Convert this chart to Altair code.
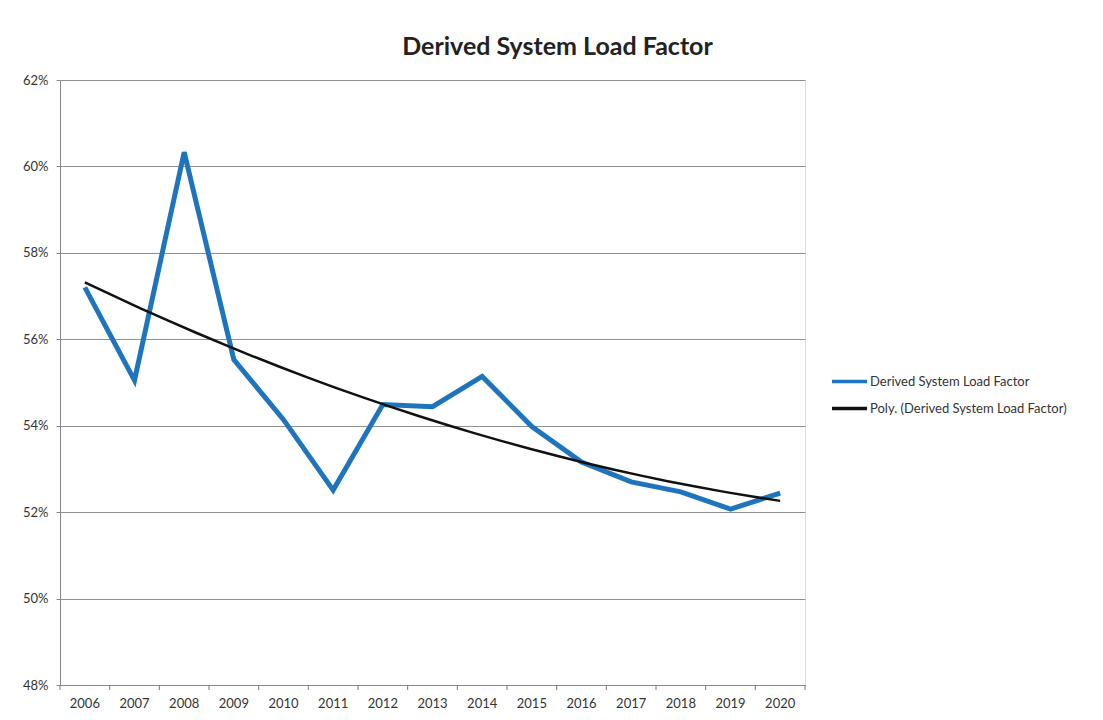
import altair as alt
import pandas as pd

years = [2006, 2007, 2008, 2009, 2010, 2011, 2012, 2013, 2014, 2015, 2016, 2017, 2018, 2019, 2020]
load_factor = [0.572, 0.5505, 0.6033, 0.5553, 0.5414, 0.5251, 0.5449, 0.5444, 0.5514, 0.5398,
               0.5316, 0.5270, 0.5247, 0.5207, 0.5244]
y_ticks = [0.48, 0.50, 0.52, 0.54, 0.56, 0.58, 0.60, 0.62]
x_bounds = [2005.5, 2006.5, 2007.5, 2008.5, 2009.5, 2010.5, 2011.5, 2012.5, 2013.5, 2014.5,
            2015.5, 2016.5, 2017.5, 2018.5, 2019.5, 2020.5]
series_names = ["Derived System Load Factor", "Poly. (Derived System Load Factor)"]
series_colors = ["#1f75bd", "#111111"]

df = pd.DataFrame({"year": years, "value": load_factor})
labels_df = pd.DataFrame({"year": years, "label": [str(y) for y in years]})
bounds_df = pd.DataFrame({"year": x_bounds})

W, H = 745, 605
FONT = "Lato"

x_scale = alt.Scale(domain=[2005.5, 2020.5], nice=False, zero=False)
y_scale = alt.Scale(domain=[0.48, 0.62], nice=False, zero=False)

x_axis = alt.Axis(
    values=[2005.5],
    labels=False,
    ticks=False,
    grid=False,
    domain=True,
    domainColor="#888888",
    title=None,
)
y_axis = alt.Axis(
    values=y_ticks,
    format=".0%",
    labelFont=FONT,
    labelFontSize=13,
    labelColor="#333333",
    grid=True,
    gridColor="#8f8f8f",
    gridWidth=1.2,
    tickSize=4,
    tickColor="#888888",
    domainColor="#888888",
    labelPadding=8,
    title=None,
)

color = alt.Color(
    "s:N",
    scale=alt.Scale(domain=series_names, range=series_colors),
    legend=alt.Legend(
        title=None,
        orient="none",
        legendX=770,
        legendY=282,
        symbolType="stroke",
        symbolSize=1225,
        symbolStrokeWidth=3.5,
        labelFont=FONT,
        labelFontSize=13,
        labelColor="#333333",
        labelOffset=1,
        rowPadding=-3,
        labelLimit=400,
    ),
)

x_enc = alt.X("year:Q", scale=x_scale, axis=x_axis)
y_enc = alt.Y("value:Q", scale=y_scale, axis=y_axis)

actual = alt.Chart(df).transform_calculate(
    s="'" + series_names[0] + "'"
).mark_line(strokeWidth=5, strokeJoin="miter").encode(x=x_enc, y=y_enc, color=color)

trend = alt.Chart(df).transform_regression("year", "value", method="poly", order=2).transform_calculate(
    s="'" + series_names[1] + "'"
).mark_line(strokeWidth=2.5).encode(x=x_enc, y=y_enc, color=color)

year_labels = alt.Chart(labels_df).mark_text(
    font=FONT, fontSize=13, color="#333333", baseline="middle", align="center"
).encode(
    x=alt.X("year:Q", scale=x_scale, axis=x_axis),
    y=alt.value(H + 19),
    text="label:N",
)

tick_marks = alt.Chart(bounds_df).mark_rule(color="#777777", strokeWidth=1).encode(
    x=alt.X("year:Q", scale=x_scale, axis=x_axis),
    y=alt.value(H),
    y2=alt.value(H + 5),
)

chart = alt.layer(actual, trend, tick_marks, year_labels).properties(
    width=W,
    height=H,
    title=alt.TitleParams(
        "Derived System Load Factor",
        font=FONT,
        fontSize=25,
        fontWeight="bold",
        color="#222222",
        anchor="middle",
        dx=125,
        offset=14,
    ),
    autosize=alt.AutoSizeParams(type="none"),
    padding={"left": 52, "top": 72, "right": 290, "bottom": 30},
).configure_view(strokeWidth=0, stroke="transparent").configure_axisX(
    grid=False
).configure(background="white")

chart.save("out.html", embed_options={"renderer": "svg", "actions": False})
